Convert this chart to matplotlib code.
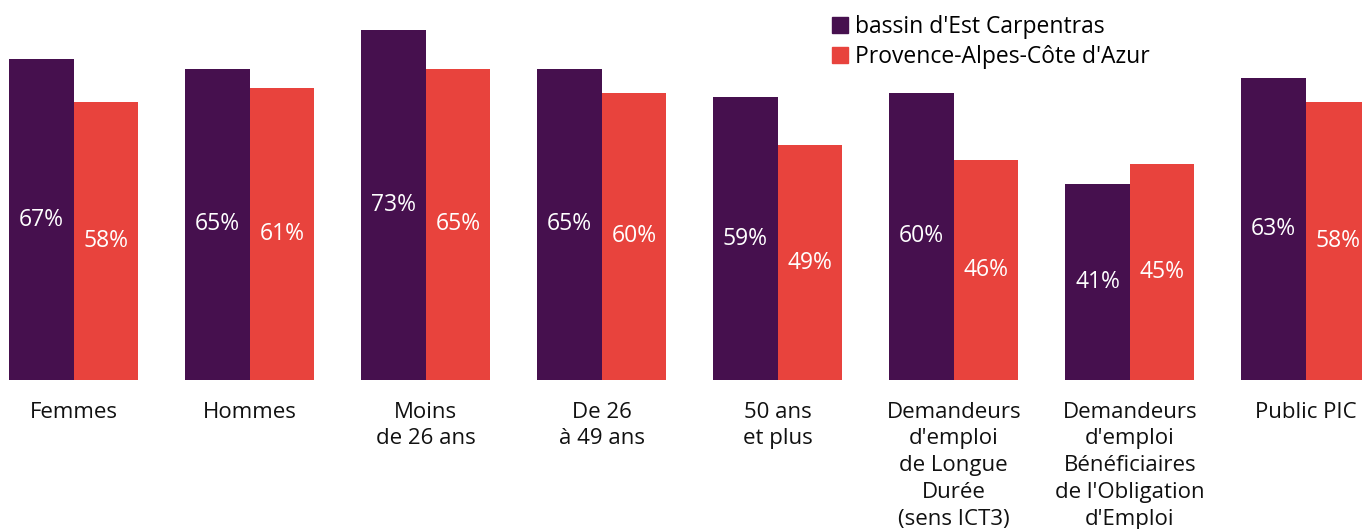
import matplotlib
matplotlib.use("Agg")
import matplotlib.pyplot as plt
from matplotlib.patches import Patch
import numpy as np

categories = ["Femmes", "Hommes", "Moins\nde 26 ans", "De 26\nà 49 ans", "50 ans\net plus",
              "Demandeurs\nd'emploi\nde Longue\nDurée\n(sens ICT3)",
              "Demandeurs\nd'emploi\nBénéficiaires\nde l'Obligation\nd'Emploi",
              "Public PIC"]
series_names = ["bassin d'Est Carpentras", "Provence-Alpes-Côte d'Azur"]
est_carpentras = [67, 65, 73, 65, 59, 60, 41, 63]
paca = [58, 61, 65, 60, 49, 46, 45, 58]

colors = ["#46104E", "#E8433D"]
plt.rcParams['font.family'] = ['Open Sans', 'DejaVu Sans']

fig = plt.figure(figsize=(13.62, 5.29), dpi=100)
ax = fig.add_axes([0, 149/529, 1, 380/529])

x = np.arange(len(categories))
w = 64.5/176
b1 = ax.bar(x - w/2, est_carpentras, width=w, color=colors[0], linewidth=0)
b2 = ax.bar(x + w/2, paca, width=w, color=colors[1], linewidth=0)

for bars, vals in ((b1, est_carpentras), (b2, paca)):
    for r, v in zip(bars, vals):
        ax.text(r.get_x() + r.get_width()/2, v/2, f"{v}%", ha="center", va="center",
                color="white", fontsize=16.5)

ax.set_xlim(-73.7/176, (1362-73.7)/176)
ax.set_ylim(0, 380/4.79)
ax.set_yticks([])
ax.set_xticks(x)
ax.set_xticklabels(categories, fontsize=16, linespacing=1.37, color="#111111")
ax.tick_params(axis="x", length=0, pad=15.5)
for s in ax.spines.values():
    s.set_visible(False)

handles = [Patch(color=colors[0]), Patch(color=colors[1])]
fig.legend(handles, series_names, loc="upper left", bbox_to_anchor=(823/1362, 1 - 6/529),
           frameon=False, fontsize=16.5, handlelength=0.7, handleheight=0.7,
           handletextpad=0.3, labelspacing=0.26, borderaxespad=0)

fig.savefig("out.png", dpi=100)
